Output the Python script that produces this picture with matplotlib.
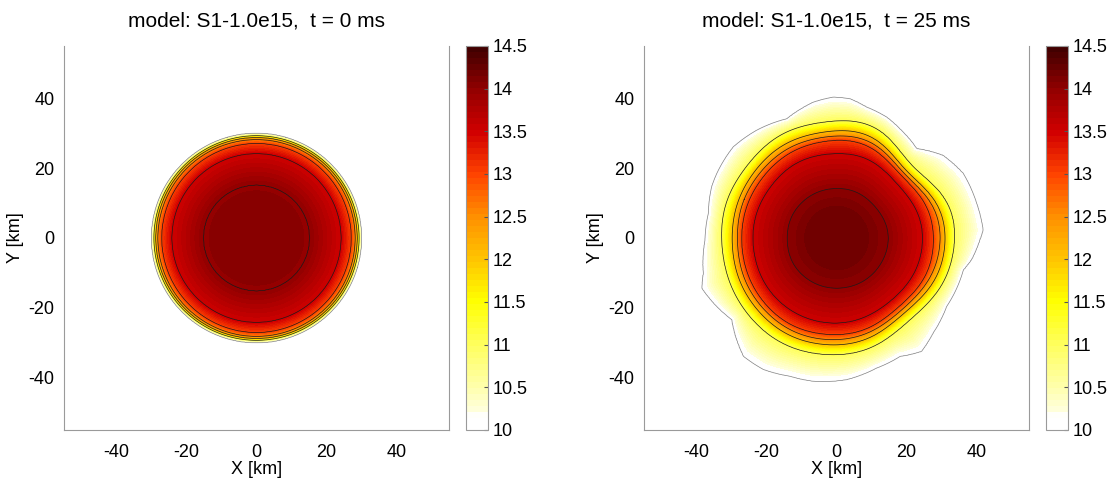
import numpy as np
import matplotlib
matplotlib.use('Agg')
import matplotlib.pyplot as plt
from matplotlib.colors import LinearSegmentedColormap

plt.rcParams['font.family'] = ['Liberation Sans', 'DejaVu Sans']
plt.rcParams['font.size'] = 12
plt.rcParams['axes.unicode_minus'] = False

# ---- values ----
titles = ['model: S1-1.0e15,  t = 0 ms', 'model: S1-1.0e15,  t = 25 ms']
xy_ticks = [-40, -20, 0, 20, 40]
cbar_ticks = [10, 10.5, 11, 11.5, 12, 12.5, 13, 13.5, 14, 14.5]
line_levels = [10, 11, 12, 12.5, 13, 13.5, 14]

# t = 0 ms: spherical star, log density vs radius [km]
left_r = [0, 15.2, 24.2, 27.1, 28.2, 28.8, 29.3, 30.0, 33.0]
left_val = [14.07, 14.0, 13.5, 13.0, 12.5, 12.0, 11.0, 10.0, 9.0]

# t = 25 ms: contour radii [km] at these polar angles [deg]
angles = [0, 22.5, 45, 67.5, 90, 112.5, 135, 157.5, 180,
          202.5, 225, 247.5, 270, 292.5, 315, 337.5]
r_core = 8.7
r_14 = [14.8, 14.5, 14.2, 14.3, 14.2, 14.2, 14.2, 14.2, 14.1, 14.3, 14.4, 14.4, 14.4, 14.5, 14.6, 14.7]
r_135 = [24.6, 24.0, 23.3, 24.2, 24.2, 24.3, 24.0, 23.9, 23.9, 24.1, 24.4, 24.5, 24.4, 24.0, 23.8, 24.4]
r_13 = [27.7, 27.0, 25.8, 27.5, 28.0, 27.8, 27.4, 27.2, 27.1, 27.4, 27.8, 28.0, 27.7, 27.2, 26.6, 27.6]
r_125 = [29.6, 28.5, 26.8, 28.8, 29.2, 29.1, 28.8, 28.6, 28.3, 28.7, 29.1, 29.4, 29.1, 28.4, 27.8, 29.0]
r_12 = [31.0, 29.8, 27.8, 30.2, 30.7, 30.6, 30.3, 30.0, 29.8, 30.2, 30.6, 30.9, 30.6, 29.8, 29.0, 30.5]
r_11 = [33.7, 32.5, 30.0, 33.0, 33.5, 33.5, 33.0, 33.0, 32.8, 33.0, 33.5, 33.8, 33.4, 32.5, 31.5, 33.0]
# outer surface (log rho = 10), traced point by point
edge_ang = [3.1, 13.9, 27.0, 37.8, 48.2, 58.9, 67.5, 77.1, 84.5, 91.3, 99.6,
            112.6, 126.5, 138.5, 151.6, 157.6, 169.1, 180.9, 194.9, 200.5,
            207.9, 218.0, 225.6, 231.9, 241.0, 251.5, 260.8, 274.1, 287.1,
            298.2, 306.8, 315.4, 328.1, 345.8, 350.8, 359.2]
edge_r = [42.0, 41.3, 40.7, 38.6, 34.4, 36.0, 37.5, 38.5, 40.1, 40.4, 39.5,
          37.0, 38.4, 39.4, 38.9, 38.6, 37.3, 37.6, 39.4, 41.1,
          39.8, 38.0, 40.8, 43.1, 43.1, 41.8, 41.6, 40.7, 39.0,
          38.5, 40.6, 38.8, 37.1, 37.4, 39.1, 41.0]
right_val = [14.18, 14.16, 14.0, 13.5, 13.0, 12.5, 12.0, 11.0, 10.0, 9.0]

# colour map (white -> yellow -> orange -> red -> dark red)
cmap_colors = [(0.0, '#ffffff'), (0.03, '#ffffff'), (0.045, '#ffffdc'),
               (1 / 9, '#ffffa8'), (2 / 9, '#ffff5a'), (3 / 9, '#ffff00'),
               (4 / 9, '#ffc400'), (5 / 9, '#ff9000'), (6 / 9, '#ff4400'),
               (7 / 9, '#d20000'), (8 / 9, '#940000'), (1.0, '#420000')]
cmap = LinearSegmentedColormap.from_list('dens', cmap_colors, N=64)
fill_levels = np.linspace(10, 14.5, 65)

# ---- build the fields ----
g = np.linspace(-55, 55, 551)
X, Y = np.meshgrid(g, g)
R = np.hypot(X, Y)
TH = np.degrees(np.arctan2(Y, X)) % 360

Z_left = np.interp(R, left_r, left_val)


def ring(vals, n=720):
    # smooth periodic curve through the sampled radii
    m = len(vals)
    c = np.fft.rfft(vals)
    full = np.zeros(n // 2 + 1, complex)
    full[:len(c)] = c
    full[m // 2] *= 0.5
    return np.fft.irfft(full, n) * n / m


n_ang = 720
idx = np.round(TH / 360 * n_ang).astype(int) % n_ang
fine_ang = np.arange(n_ang) * 360 / n_ang
radii = [np.zeros_like(R), np.full_like(R, r_core)]
for arr in [r_14, r_135, r_13, r_125, r_12, r_11]:
    radii.append(ring(arr, n_ang)[idx])
radii.append(np.interp(fine_ang, edge_ang, edge_r, period=360)[idx])
radii.append(radii[-1] + 3.0)

Z_right = np.full_like(R, right_val[-1])
for k in range(len(radii) - 1):
    r0, r1 = radii[k], radii[k + 1]
    m = (R >= r0) & (R < r1)
    t = (R[m] - r0[m]) / (r1[m] - r0[m])
    Z_right[m] = right_val[k] + t * (right_val[k + 1] - right_val[k])

# ---- figure ----
fig = plt.figure(figsize=(11.11, 4.8), dpi=100)
W, H = 1111, 480
ax_x = [64, 644]
cb_x = [466, 1046]

for i, Z in enumerate([Z_left, Z_right]):
    ax = fig.add_axes([ax_x[i] / W, 50 / H, 385 / W, 384 / H])
    cf = ax.contourf(X, Y, Z, levels=fill_levels, cmap=cmap)
    ax.contour(X, Y, Z, levels=line_levels,
               colors=['#808080'] + ['#1a1a1a'] * (len(line_levels) - 1),
               linewidths=0.5)
    ax.set_xlim(-55, 55)
    ax.set_ylim(-55, 55)
    ax.set_xticks(xy_ticks)
    ax.set_yticks(xy_ticks)
    ax.tick_params(length=0, labelsize=13)
    ax.tick_params(axis='x', pad=10)
    ax.tick_params(axis='y', pad=7)
    for s in ['left', 'right', 'bottom']:
        ax.spines[s].set_color('#9a9a9a')
    ax.spines['top'].set_visible(False)
    ax.set_xlabel('X [km]', fontsize=13, labelpad=0)
    ax.set_ylabel('Y [km]', fontsize=13, labelpad=3)
    ax.set_title(titles[i], fontsize=15, pad=14)

    cax = fig.add_axes([cb_x[i] / W, 50 / H, 22 / W, 384 / H])
    cb = fig.colorbar(cf, cax=cax, ticks=cbar_ticks)
    cb.ax.set_yticklabels(['%g' % v for v in cbar_ticks])
    cb.ax.tick_params(direction='in', length=3, color='#555555', labelsize=13, pad=3)
    cb.outline.set_edgecolor('#9a9a9a')

fig.savefig('out.png', dpi=100)
